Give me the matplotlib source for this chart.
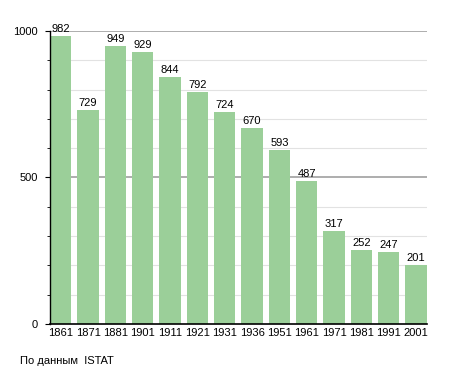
import matplotlib
matplotlib.use("Agg")
import matplotlib.pyplot as plt
from matplotlib.ticker import MultipleLocator

years = ["1861", "1871", "1881", "1901", "1911", "1921", "1931", "1936",
         "1951", "1961", "1971", "1981", "1991", "2001"]
population = [982, 729, 949, 929, 844, 792, 724, 670, 593, 487, 317, 252, 247, 201]

plt.rcParams['font.family'] = ['Liberation Sans', 'DejaVu Sans']

fig = plt.figure(figsize=(4.55, 3.73), dpi=100)
ax = fig.add_axes([0.110, 0.1314, 0.828, 0.7855])

w = 0.78
x = list(range(len(years)))

ax.set_xlim(-w / 2, len(years) - 1 + w / 2)
ax.set_ylim(0, 1000)
ax.yaxis.set_major_locator(MultipleLocator(500))
ax.yaxis.set_minor_locator(MultipleLocator(100))

# grid lines drawn explicitly beneath the bars
for g in ax.yaxis.get_minorticklocs():
    ax.axhline(g, color='#e2e2e2', linewidth=0.8, zorder=0.3)
for g in ax.yaxis.get_majorticklocs():
    if g > 0:
        ax.axhline(g, color='#a0a0a0', linewidth=1.2, zorder=0.4)

ax.bar(x, population, width=w, color='#9bcf99', zorder=2)
for xi, v in zip(x, population):
    ax.text(xi, v + 7, str(v), ha='center', va='bottom', fontsize=8, color='black', zorder=3)

ax.set_xticks(x)
ax.set_xticklabels(years, fontsize=8)
ax.tick_params(axis='x', length=0, pad=3)
ax.tick_params(axis='y', which='major', length=3.6, labelsize=8, pad=5)
ax.tick_params(axis='y', which='minor', length=2.5)
for s in ['top', 'right']:
    ax.spines[s].set_visible(False)
ax.spines['left'].set_linewidth(1.0)
ax.spines['bottom'].set_linewidth(1.2)
ax.spines['left'].set_zorder(4)
ax.spines['bottom'].set_zorder(4)

fig.text(20 / 455, 1 - 361 / 373, "По данным  ISTAT", fontsize=8, ha='left', va='center')

fig.savefig("out.png", dpi=100)
